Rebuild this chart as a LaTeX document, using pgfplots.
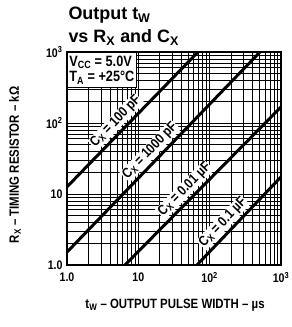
\documentclass[border=0pt]{standalone}
\usepackage{fontspec}
\setmainfont{Liberation Sans}[FakeStretch=0.85]
\newfontfamily\titlefont{Liberation Sans}
\usepackage{pgfplots}
\pgfplotsset{compat=1.18}
\newcommand{\labfont}{\bfseries\fontsize{14}{15}\selectfont}
\begin{document}
\begin{tikzpicture}
\begin{axis}[
  scale only axis, width=214bp, height=213bp,
  xmode=log, ymode=log,
  xmin=1, xmax=1000, ymin=1, ymax=1000,
  xtick={1,10,100,1000}, ytick={1,10,100,1000},
  xticklabels={1.0,10,10\textsuperscript{2},10\textsuperscript{3}},
  yticklabels={1.0,10,10\textsuperscript{2},10\textsuperscript{3}},
  minor xtick={2,3,4,5,6,7,8,9,20,30,40,50,60,70,80,90,200,300,400,500,600,700,800,900},
  minor ytick={2,3,4,5,6,7,8,9,20,30,40,50,60,70,80,90,200,300,400,500,600,700,800,900},
  grid=both,
  major grid style={black, line width=0.8pt},
  minor grid style={black, line width=0.7pt},
  tick style={draw=none},
  axis line style={black, line width=1.4pt},
  ticklabel style={font=\bfseries\fontsize{12.5}{13}\selectfont},
  xticklabel style={yshift=-4bp},
  yticklabel style={xshift=-1bp},
  xlabel={t\textsubscript{W} -- OUTPUT PULSE WIDTH -- µs},
  ylabel={R\textsubscript{X} -- TIMING RESISTOR -- kΩ},
  every axis x label/.style={at={(rel axis cs:0.505,0)}, yshift=-40bp, anchor=center, font=\bfseries\fontsize{13.5}{14}\selectfont},
  every axis y label/.style={at={(rel axis cs:0,0.47)}, xshift=-52bp, rotate=90, anchor=center, font=\bfseries\fontsize{13.5}{14}\selectfont},
]
\addplot[black, line width=3pt] coordinates {(1,12.6) (68.6,1000)}
  node[pos=0.43, sloped, above=1.8pt, fill=white, inner sep=0.8pt, font=\labfont] {C\textsubscript{X} = 100 pF};
\addplot[black, line width=3pt] coordinates {(1,1.52) (508,1000)}
  node[pos=0.47, sloped, above=1.8pt, fill=white, inner sep=0.8pt, font=\labfont] {C\textsubscript{X} = 1000 pF};
\addplot[black, line width=3pt] coordinates {(6.5,1) (1000,168)}
  node[pos=0.43, sloped, above=1.8pt, fill=white, inner sep=0.8pt, font=\labfont] {C\textsubscript{X} = 0.01 µF};
\addplot[black, line width=3pt] coordinates {(66.4,1) (1000,17.4)}
  node[pos=0.4, sloped, above=1.8pt, fill=white, inner sep=0.8pt, font=\labfont] {C\textsubscript{X} = 0.1 µF};
\end{axis}
\node[anchor=north west, fill=white, draw=black, line width=0.8pt, minimum width=68bp, minimum height=35bp, align=left, inner sep=2bp, font=\bfseries\fontsize{15}{16}\selectfont] at (current axis.north west) {V\textsubscript{CC} = 5.0V\\T\textsubscript{A} = +25°C};
\node[anchor=base west, font=\titlefont\bfseries\fontsize{18}{20}\selectfont] at ([shift={(-2bp,32bp)}]current axis.north west) {Output t\textsubscript{W}};
\node[anchor=base west, font=\titlefont\bfseries\fontsize{18}{20}\selectfont] at ([shift={(-2bp,9.5bp)}]current axis.north west) {vs R\textsubscript{X} and C\textsubscript{X}};
\pgfresetboundingbox
\path[use as bounding box] ([shift={(-67bp,-62bp)}]current axis.south west) rectangle ([shift={(11bp,52bp)}]current axis.north east);
\end{tikzpicture}
\end{document}
